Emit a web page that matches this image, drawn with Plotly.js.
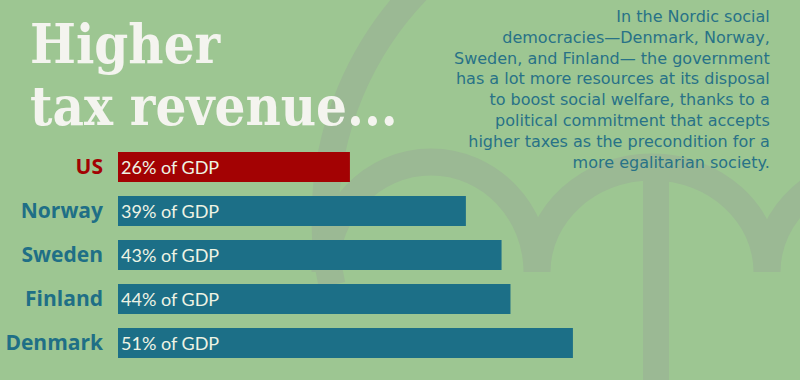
<!DOCTYPE html>
<html>
<head>
<meta charset="utf-8">
<script src="https://cdn.plot.ly/plotly-3.0.1.min.js"></script>
<style>
  html, body { margin: 0; padding: 0; background: #9dc692; }
  #chart { width: 800px; height: 380px; }
</style>
</head>
<body>
<div id="chart"></div>
<script>
// ---- data ----
const countries = ["US", "Norway", "Sweden", "Finland", "Denmark"];
const taxShare = [26, 39, 43, 44, 51];
const barLabels = ["26% of GDP", "39% of GDP", "43% of GDP", "44% of GDP", "51% of GDP"];
const barColors = ["#a30203", "#1c6f87", "#1c6f87", "#1c6f87", "#1c6f87"];
const labelColors = ["#a30203", "#1f6f86", "#1f6f86", "#1f6f86", "#1f6f86"];
const titleLines = ["Higher", "tax revenue..."];
const noteLines = [
  "In the Nordic social",
  "democracies\u2014Denmark, Norway,",
  "Sweden, and Finland\u2014 the government",
  "has a lot more resources at its disposal",
  "to boost social welfare, thanks to a",
  "political commitment that accepts",
  "higher taxes as the precondition for a",
  "more egalitarian society."
];

// ---- helpers for decorative shapes (pixel -> paper) ----
const W = 800, H = 380;
function pt(x, y) { return (x / W).toFixed(5) + "," + (1 - y / H).toFixed(5); }
const band = "#9bb994";

const canopyPath = "M" + pt(332, 285) + " Q" + pt(325, 255) + " " + pt(325, 219) +
  " C" + pt(325, 36.7) + " " + pt(472.7, -111) + " " + pt(655, -111);
const scallopPath = "M" + pt(325, 272) +
  " C" + pt(325, 211) + " " + pt(372.5, 162) + " " + pt(431, 162) +
  " C" + pt(489.5, 162) + " " + pt(537, 211) + " " + pt(537, 272) +
  " C" + pt(537, 214) + " " + pt(588.5, 167) + " " + pt(652, 167) +
  " C" + pt(715.5, 167) + " " + pt(767, 214) + " " + pt(767, 272) +
  " C" + pt(767, 214) + " " + pt(818.5, 167) + " " + pt(882, 167);
const shaftPath = "M" + pt(656, 172) + " L" + pt(656, 400);

const trace = {
  type: "bar",
  orientation: "h",
  y: countries,
  x: taxShare,
  text: barLabels,
  textposition: "inside",
  insidetextanchor: "start",
  textfont: { family: "Lato, sans-serif", size: 18, color: "#eef3e4" },
  marker: { color: barColors, line: { width: 0 } },
  width: 0.68,
  hoverinfo: "none",
  cliponaxis: false
};

const annotations = [];
titleLines.forEach((t, i) => {
  annotations.push({
    text: t, xref: "paper", yref: "paper", x: 28 / W, y: 1 - (64 + 62 * i) / H,
    xanchor: "left", yanchor: "bottom", yshift: -14, align: "left", showarrow: false,
    font: { family: "DejaVu Serif Condensed, DejaVu Serif, serif", size: 54, weight: "bold", color: "#f4f4ef" }
  });
});
annotations.push({
  text: noteLines.join("<br>"), xref: "paper", yref: "paper", x: 771 / W, y: 1 - 6 / H,
  xanchor: "right", yanchor: "top", align: "right", showarrow: false, borderpad: 0,
  font: { family: "DejaVu Sans, sans-serif", size: 16, color: "#287287" }
});

const layout = {
  width: W, height: H,
  margin: { l: 0, r: 0, t: 0, b: 0 },
  paper_bgcolor: "#9dc692",
  plot_bgcolor: "rgba(0,0,0,0)",
  showlegend: false,
  xaxis: {
    domain: [118 / W, 1],
    range: [0, 682 / 8.92],
    visible: false,
    fixedrange: true
  },
  yaxis: {
    domain: [1 - 365 / H, 1 - 145 / H],
    type: "category",
    categoryorder: "array",
    categoryarray: countries,
    autorange: "reversed",
    tickvals: countries,
    ticktext: countries.map((c, i) => "<span style='color:" + labelColors[i] + "'>" + c + "</span>"),
    tickfont: { family: "Open Sans, sans-serif", size: 21, weight: "bold", color: "#1f6f86" },
    ticks: "",
    ticklabelstandoff: 14,
    showgrid: false,
    zeroline: false,
    showline: false,
    automargin: false,
    fixedrange: true
  },
  shapes: [
    { type: "path", xref: "paper", yref: "paper", path: canopyPath, layer: "below",
      line: { color: band, width: 27 } },
    { type: "path", xref: "paper", yref: "paper", path: scallopPath, layer: "below",
      line: { color: band, width: 27 } },
    { type: "path", xref: "paper", yref: "paper", path: shaftPath, layer: "below",
      line: { color: band, width: 26 } }
  ],
  annotations: annotations
};

Plotly.newPlot("chart", [trace], layout, { displayModeBar: false, staticPlot: true });
</script>
</body>
</html>
